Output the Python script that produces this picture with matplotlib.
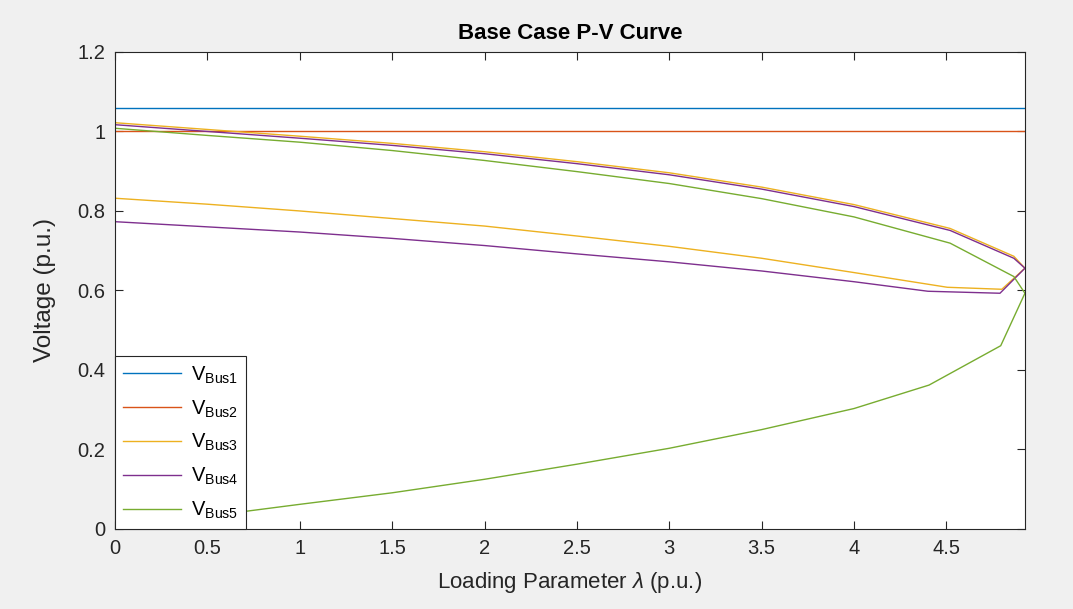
import matplotlib.pyplot as plt

plt.rcParams['font.family'] = ['Liberation Sans', 'DejaVu Sans']
plt.rcParams['mathtext.fontset'] = 'custom'
plt.rcParams['mathtext.rm'] = 'Liberation Sans'
plt.rcParams['mathtext.it'] = 'Liberation Sans:italic'

# loading parameter along the continuation (upper branch -> nose -> lower branch)
lam_flat = [0, 4.925]
v_bus1 = [1.06, 1.06]
v_bus2 = [1.0, 1.0]

lam_up = [0, 0.5, 1.0, 1.5, 2.0, 2.5, 3.0, 3.5, 4.0, 4.52, 4.865, 4.925]
v3_up = [1.022, 1.005, 0.988, 0.970, 0.949, 0.924, 0.896, 0.860, 0.816, 0.756, 0.686, 0.656]
v4_up = [1.017, 1.000, 0.983, 0.965, 0.944, 0.919, 0.891, 0.855, 0.811, 0.751, 0.681, 0.656]
v5_up = [1.008, 0.990, 0.973, 0.952, 0.927, 0.899, 0.869, 0.831, 0.785, 0.719, 0.635, 0.593]

lam3_low = [4.80, 4.505, 4.0, 3.5, 3.0, 2.5, 2.0, 1.5, 1.0, 0.5, 0]
v3_low = [0.603, 0.608, 0.645, 0.681, 0.711, 0.737, 0.762, 0.781, 0.800, 0.817, 0.832]
lam4_low = [4.79, 4.4, 4.0, 3.5, 3.0, 2.5, 2.0, 1.5, 1.0, 0.5, 0]
v4_low = [0.593, 0.598, 0.622, 0.649, 0.672, 0.692, 0.713, 0.731, 0.747, 0.760, 0.773]
lam5_low = [4.794, 4.406, 4.0, 3.5, 3.0, 2.5, 2.0, 1.5, 1.0, 0.5, 0]
v5_low = [0.461, 0.362, 0.303, 0.250, 0.203, 0.163, 0.125, 0.091, 0.062, 0.032, 0.003]

labels = [r'$\mathrm{V_{Bus1}}$', r'$\mathrm{V_{Bus2}}$', r'$\mathrm{V_{Bus3}}$',
          r'$\mathrm{V_{Bus4}}$', r'$\mathrm{V_{Bus5}}$']
colors = ['#0072BD', '#D95319', '#EDB120', '#7E2F8E', '#77AC30']

fig = plt.figure(figsize=(10.73, 6.09), dpi=100, facecolor='#f0f0f0')
ax = fig.add_axes([0.1072, 0.1314, 0.848, 0.7833])

lw = 1.0
ax.plot(lam_flat, v_bus1, color=colors[0], lw=lw, label=labels[0])
ax.plot(lam_flat, v_bus2, color=colors[1], lw=lw, label=labels[1])
ax.plot(lam_up + lam3_low, v3_up + v3_low, color=colors[2], lw=lw, label=labels[2])
ax.plot(lam_up + lam4_low, v4_up + v4_low, color=colors[3], lw=lw, label=labels[3])
ax.plot(lam_up + lam5_low, v5_up + v5_low, color=colors[4], lw=lw, label=labels[4])

ax.set_xlim(0, 4.925)
ax.set_ylim(0, 1.2)
ax.set_xticks([0, 0.5, 1, 1.5, 2, 2.5, 3, 3.5, 4, 4.5])
ax.set_xticklabels(['0', '0.5', '1', '1.5', '2', '2.5', '3', '3.5', '4', '4.5'])
ax.set_yticks([0, 0.2, 0.4, 0.6, 0.8, 1.0, 1.2])
ax.set_yticklabels(['0', '0.2', '0.4', '0.6', '0.8', '1', '1.2'])

ax.tick_params(direction='in', top=True, right=True, length=6, width=0.8,
               labelsize=14.5, colors='#262626', pad=7)
for s in ax.spines.values():
    s.set_color('#262626')
    s.set_linewidth(0.8)

ax.set_title('Base Case P-V Curve', fontsize=16, fontweight='bold', color='black', pad=9)
ax.set_xlabel(r'Loading Parameter $\lambda$ (p.u.)', fontsize=16, color='#262626', labelpad=9)
ax.set_ylabel('Voltage (p.u.)', fontsize=17.5, color='#262626', labelpad=15)

leg = ax.legend(loc='lower left', borderaxespad=0, fontsize=14.5, fancybox=False,
                framealpha=1, edgecolor='#262626', handlelength=2.9,
                labelspacing=0.62, borderpad=0.4, handletextpad=0.45)
leg.get_frame().set_linewidth(0.8)

fig.savefig('out.png', dpi=100, facecolor=fig.get_facecolor())
